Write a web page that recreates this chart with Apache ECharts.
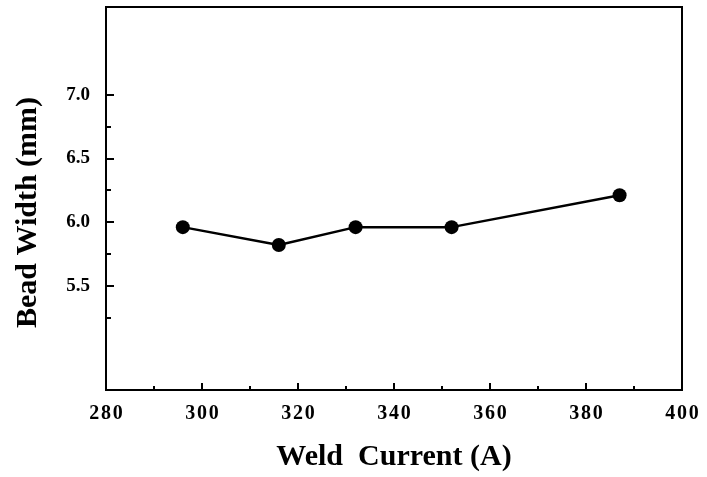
<!DOCTYPE html>
<html>
<head>
<meta charset="utf-8">
<script src="https://cdn.jsdelivr.net/npm/echarts@6/dist/echarts.min.js"></script>
<style>html,body{margin:0;padding:0;background:#fff}#c{width:707px;height:477px}</style>
</head>
<body>
<div id="c"></div>
<script>
var currents = [296, 316, 332, 352, 387];
var beadWidth = [5.96, 5.82, 5.96, 5.96, 6.21];
var yLabelValues = [5.5, 6.0, 6.5, 7.0];
var yMinorValues = [5.25, 5.75, 6.25, 6.75];
var xTitle = 'Weld  Current (A)';
var yTitle = 'Bead Width (mm)';

var font = '"Liberation Serif", "Times New Roman", serif';
var chart = echarts.init(document.getElementById('c'));
chart.setOption({
  animation: false,
  grid: {left: 106, right: 25, top: 7, bottom: 86, show: true, borderColor: '#000', borderWidth: 2, backgroundColor: 'transparent'},
  xAxis: {
    type: 'value', min: 280, max: 400, interval: 20,
    axisLine: {show: true, lineStyle: {color: '#000', width: 2}},
    axisTick: {show: true, inside: true, length: 7, lineStyle: {color: '#000', width: 2}},
    minorTick: {show: true, splitNumber: 2, length: 4, lineStyle: {color: '#000', width: 2}},
    splitLine: {show: false},
    axisLabel: {color: '#000', fontFamily: font, fontWeight: 'bold', fontSize: 20, margin: 14,
      formatter: function (v) { return String(v).split('').join('\u200A'); }},
    name: xTitle, nameLocation: 'middle', nameGap: 52,
    nameTextStyle: {color: '#000', fontFamily: font, fontWeight: 'bold', fontSize: 30}
  },
  yAxis: [{
    type: 'value', min: 4.68, max: 7.69,
    axisLine: {show: true, lineStyle: {color: '#000', width: 2}},
    axisTick: {show: true, inside: true, length: 8, customValues: yLabelValues, lineStyle: {color: '#000', width: 2}},
    splitLine: {show: false},
    axisLabel: {color: '#000', fontFamily: font, fontWeight: 'bold', fontSize: 19, margin: 16,
      customValues: yLabelValues, formatter: function (v) { return v.toFixed(1); }},
    name: yTitle, nameLocation: 'middle', nameGap: 63,
    nameTextStyle: {color: '#000', fontFamily: font, fontWeight: 'bold', fontSize: 30, padding: [0, 28, 0, 0]}
  }, {
    type: 'value', min: 4.68, max: 7.69, position: 'left',
    axisLine: {show: false},
    axisTick: {show: true, inside: true, length: 5, customValues: yMinorValues, lineStyle: {color: '#000', width: 2}},
    axisLabel: {show: false},
    splitLine: {show: false}
  }],
  series: [{
    type: 'line',
    data: currents.map(function (x, i) { return [x, beadWidth[i]]; }),
    symbol: 'circle', symbolSize: 14,
    itemStyle: {color: '#000'},
    lineStyle: {color: '#000', width: 2.5}
  }]
});
</script>
</body>
</html>
